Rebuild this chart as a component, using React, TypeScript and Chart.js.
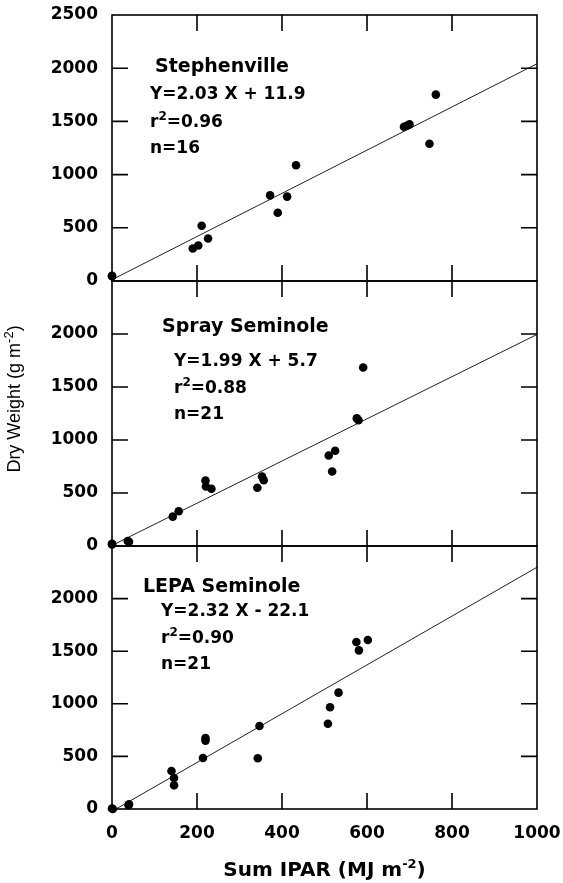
import React, { useEffect, useRef } from 'react';
import { Chart, registerables } from 'chart.js';
Chart.register(...registerables);

// ---- Data ----
const STEPH_X = [0, 0, 190, 203, 211, 226, 372, 390, 412, 433, 687, 695, 700, 747, 762];
const STEPH_Y = [50, 45, 305, 333, 519, 400, 805, 642, 793, 1088, 1450, 1462, 1472, 1290, 1752];

const SPRAY_X = [0, 0, 37, 40, 143, 157, 220, 221, 234, 342, 353, 357, 510, 525, 518, 576, 580, 591];
const SPRAY_Y = [15, 20, 47, 40, 277, 328, 618, 561, 540, 549, 656, 621, 854, 899, 703, 1204, 1186, 1684];

const LEPA_X = [0, 2, 39, 40, 140, 146, 146, 214, 220, 220, 343, 347, 508, 513, 533, 575, 581, 602];
const LEPA_Y = [5, 0, 35, 45, 361, 295, 225, 485, 675, 650, 482, 789, 811, 967, 1106, 1588, 1508, 1607];

const SLOPES = [2.03, 1.99, 2.32];
const INTERCEPTS = [11.9, 5.7, -22.1];
const PANEL_NAMES = ['Stephenville', 'Spray Seminole', 'LEPA Seminole'];
const EQUATIONS = ['Y=2.03 X + 11.9', 'Y=1.99 X + 5.7', 'Y=2.32 X - 22.1'];
const R2_VALUES = ['0.96', '0.88', '0.90'];
const N_VALUES = ['16', '21', '21'];

const X_MIN = 0, X_MAX = 1000, X_STEP = 200;
const Y_MIN = 0, Y_MAX = 2500, Y_STEP = 500;

// ---- Layout / style ----
const W = 563, H = 883;
const PLOT_LEFT = 112;
// plot areas: top 15-281, middle 281-546, bottom 546-809; x from 112 to 537
const PAD_TOP = [15, 281, 546];
const PAD_BOTTOM = [602, 337, 0];
const PAD_RIGHT = [26, 26, 26];
const X_AXIS_HEIGHT = 74;
const TICK_FONT = { family: '"DejaVu Sans", sans-serif', size: 17, weight: 'bold' };
const TITLE_FONT = 'bold 19px "DejaVu Sans", sans-serif';
const EQ_FONT = 'bold 17px "DejaVu Sans", sans-serif';
const EQ_SUP_FONT = 'bold 12px "DejaVu Sans", sans-serif';
// text offsets from chart-area left/top (baselines)
const TEXT_POS = [
  { title: [43, 57], lines: [[38, 84], [38, 112], [38, 138]] },
  { title: [50, 51], lines: [[62, 85], [62, 112], [62, 138]] },
  { title: [31, 46], lines: [[49, 70], [49, 97], [49, 123]] },
];

type Part = { t: string; sup?: boolean };

function drawRich(ctx: CanvasRenderingContext2D, parts: Part[], x: number, y: number, font: string, supFont: string, supRaise: number, align: 'left' | 'center') {
  let total = 0;
  const widths = parts.map((p) => {
    ctx.font = p.sup ? supFont : font;
    const w = ctx.measureText(p.t).width;
    total += w;
    return w;
  });
  let cx = align === 'center' ? x - total / 2 : x;
  ctx.textAlign = 'left';
  ctx.textBaseline = 'alphabetic';
  parts.forEach((p, i) => {
    ctx.font = p.sup ? supFont : font;
    ctx.fillText(p.t, cx, p.sup ? y - supRaise : y);
    cx += widths[i];
  });
}

function makePlugin(idx: number) {
  return {
    id: 'panelDecor' + idx,
    afterDraw(chart: any) {
      const ctx: CanvasRenderingContext2D = chart.ctx;
      const { left, right, top, bottom } = chart.chartArea;
      const xs = chart.scales.x;
      const ys = chart.scales.y;
      ctx.save();
      ctx.strokeStyle = '#000';
      ctx.fillStyle = '#000';
      ctx.lineWidth = 1.6;
      ctx.strokeRect(left, top, right - left, bottom - top);
      // inward ticks
      const TL = 16;
      ctx.beginPath();
      for (let v = Y_MIN + Y_STEP; v < Y_MAX; v += Y_STEP) {
        const py = ys.getPixelForValue(v);
        ctx.moveTo(left, py); ctx.lineTo(left + TL, py);
        ctx.moveTo(right, py); ctx.lineTo(right - TL, py);
      }
      for (let v = X_MIN + X_STEP; v < X_MAX; v += X_STEP) {
        const px = xs.getPixelForValue(v);
        ctx.moveTo(px, top); ctx.lineTo(px, top + TL);
        ctx.moveTo(px, bottom); ctx.lineTo(px, bottom - TL);
      }
      ctx.stroke();
      // annotations
      const pos = TEXT_POS[idx];
      ctx.textAlign = 'left';
      ctx.textBaseline = 'alphabetic';
      ctx.font = TITLE_FONT;
      ctx.fillText(PANEL_NAMES[idx], left + pos.title[0], top + pos.title[1]);
      drawRich(ctx, [{ t: EQUATIONS[idx] }], left + pos.lines[0][0], top + pos.lines[0][1], EQ_FONT, EQ_SUP_FONT, 7, 'left');
      drawRich(ctx, [{ t: 'r' }, { t: '2', sup: true }, { t: '=' + R2_VALUES[idx] }], left + pos.lines[1][0], top + pos.lines[1][1], EQ_FONT, EQ_SUP_FONT, 7, 'left');
      drawRich(ctx, [{ t: 'n=' + N_VALUES[idx] }], left + pos.lines[2][0], top + pos.lines[2][1], EQ_FONT, EQ_SUP_FONT, 7, 'left');
      // axis titles
      if (idx === 1) {
        ctx.save();
        ctx.translate(20, 399);
        ctx.rotate(-Math.PI / 2);
        drawRich(ctx, [{ t: 'Dry Weight (g m' }, { t: '-2', sup: true }, { t: ')' }], 0, 0,
          '18px "Liberation Sans", Arial, sans-serif', '13px "Liberation Sans", Arial, sans-serif', 7, 'center');
        ctx.restore();
      }
      if (idx === 2) {
        drawRich(ctx, [{ t: 'Sum IPAR (MJ m' }, { t: '-2', sup: true }, { t: ')' }], (left + right) / 2, 876,
          'bold 20px "DejaVu Sans", sans-serif', 'bold 13px "DejaVu Sans", sans-serif', 8, 'center');
      }
      ctx.restore();
    },
  };
}

function Panel({ idx, xs, ys }: { idx: number; xs: number[]; ys: number[] }) {
  const ref = useRef<HTMLCanvasElement>(null);
  useEffect(() => {
    const canvas = ref.current!;
    const pts = xs.map((x, i) => ({ x, y: ys[i] }));
    const m = SLOPES[idx], b = INTERCEPTS[idx];
    const x0 = Math.max(X_MIN, -b / m);
    const linePts = [{ x: x0, y: m * x0 + b }, { x: X_MAX, y: m * X_MAX + b }];
    const isBottom = idx === 2;
    const chart = new Chart(canvas, {
      type: 'scatter',
      data: {
        datasets: [
          { type: 'line', data: linePts, borderColor: '#222', borderWidth: 1, pointRadius: 0, fill: false, tension: 0, order: 2 } as any,
          { data: pts, backgroundColor: '#000', borderWidth: 0, pointRadius: 4.3, clip: false, order: 1 } as any,
        ],
      },
      options: {
        animation: false,
        responsive: false,
        events: [],
        layout: { autoPadding: false, padding: { top: PAD_TOP[idx], bottom: PAD_BOTTOM[idx], left: 0, right: PAD_RIGHT[idx] } },
        plugins: { legend: { display: false }, tooltip: { enabled: false } },
        scales: {
          x: {
            type: 'linear', min: X_MIN, max: X_MAX, display: isBottom,
            ticks: { stepSize: X_STEP, font: TICK_FONT, color: '#000', padding: 14, maxRotation: 0,
              callback: (v: any) => String(v) },
            grid: { display: false, drawTicks: false },
            border: { display: false },
            afterFit: (s: any) => { s.height = isBottom ? X_AXIS_HEIGHT : 0; s.paddingLeft = 0; s.paddingRight = 0; },
          },
          y: {
            type: 'linear', min: Y_MIN, max: Y_MAX,
            ticks: {
              stepSize: Y_STEP, font: TICK_FONT, color: '#000', padding: 14,
              callback: (v: any) => (idx > 0 && v === Y_MAX ? '' : String(v)),
            },
            grid: { display: false, drawTicks: false },
            border: { display: false },
            afterFit: (s: any) => { s.width = PLOT_LEFT; s.paddingTop = 0; s.paddingBottom = 0; },
          },
        },
      } as any,
      plugins: [makePlugin(idx)],
    });
    return () => chart.destroy();
  }, []);
  return <canvas ref={ref} width={W} height={H} style={{ position: 'absolute', left: 0, top: 0, width: W, height: H }} />;
}

export default function App() {
  return (
    <div style={{ position: 'absolute', left: 0, top: 0, width: W, height: H, background: '#fff' }}>
      <Panel idx={0} xs={STEPH_X} ys={STEPH_Y} />
      <Panel idx={1} xs={SPRAY_X} ys={SPRAY_Y} />
      <Panel idx={2} xs={LEPA_X} ys={LEPA_Y} />
    </div>
  );
}
